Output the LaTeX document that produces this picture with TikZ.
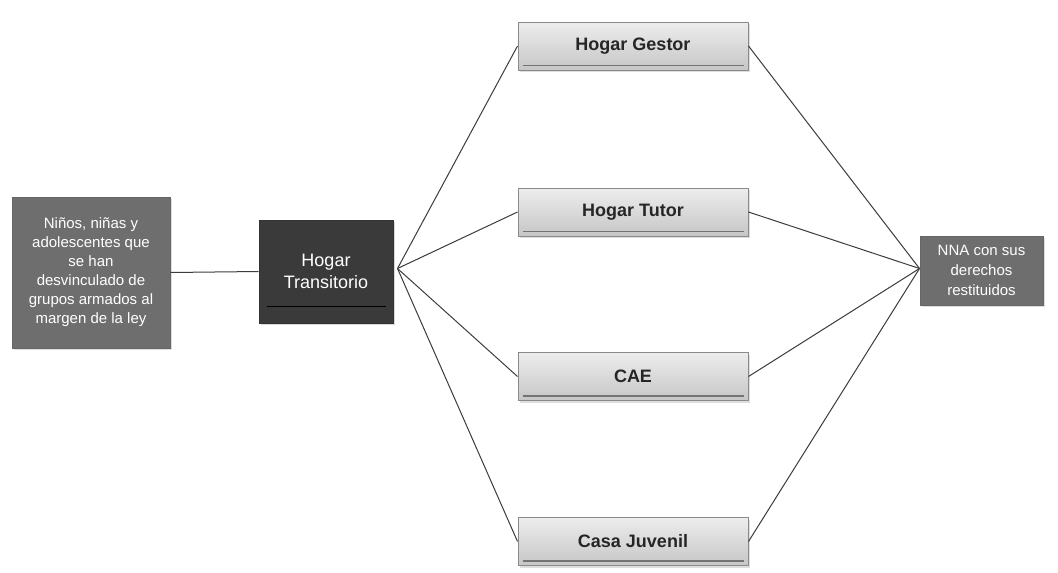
\documentclass[tikz,border=0pt]{standalone}
\usepackage{fontspec}
\setmainfont{Liberation Sans}
\usetikzlibrary{shadows}
\definecolor{midtop}{HTML}{EDEDED}
\definecolor{midbot}{HTML}{C6C6C6}
\definecolor{midborder}{HTML}{8A8A8A}
\definecolor{sidegray}{HTML}{6E6E6E}
\definecolor{darkbox}{HTML}{3A3A3A}
\definecolor{linegray}{HTML}{3C3C3C}
\tikzset{
  midbox/.style={draw=midborder, line width=1pt, top color=midtop, bottom color=midbot,
    minimum width=230pt, minimum height=48pt, inner sep=0pt,
    font=\fontsize{18}{20}\selectfont\bfseries, text=black!85,
    drop shadow={shadow xshift=2pt, shadow yshift=-2pt, fill=black!25}},
  graybox/.style={draw=black!60, line width=1pt, fill=sidegray, text=white, align=center,
    inner sep=0pt, drop shadow={shadow xshift=2pt, shadow yshift=-2pt, fill=black!25}},
  darkboxstyle/.style={draw=black!80, line width=1pt, fill=darkbox, text=white, align=center,
    inner sep=0pt, minimum width=134pt, minimum height=103pt,
    font=\fontsize{18}{22}\selectfont,
    drop shadow={shadow xshift=2pt, shadow yshift=-2pt, fill=black!30}},
  conn/.style={draw=linegray, line width=1pt}
}
\begin{document}
\begin{tikzpicture}[x=1pt,y=-1pt]
\useasboundingbox[fill=white] (0,0) rectangle (1058,573);
% left box
\node[graybox, minimum width=158pt, minimum height=151pt, font=\fontsize{15}{19}\selectfont]
  (ninos) at (91,272.5) {Niños, niñas y\\adolescentes que\\se han\\desvinculado de\\grupos armados al\\margen de la ley};
% hogar transitorio
\node[darkboxstyle] (trans) at (326,271.5) {Hogar\\Transitorio};
\draw[black, line width=1.5pt] ([xshift=8pt,yshift=17pt]trans.south west) -- ([xshift=-8pt,yshift=17pt]trans.south east);
% middle boxes
\node[midbox] (gestor) at (633,46) {Hogar Gestor};
\node[midbox] (tutor) at (633,212) {Hogar Tutor};
\node[midbox] (cae) at (633,376.5) {CAE};
\node[midbox] (casa) at (633,541.5) {Casa Juvenil};
\foreach \n in {gestor,tutor,cae,casa}{
  \draw[black!55, line width=1.2pt] ([xshift=5pt,yshift=5pt]\n.south west) -- ([xshift=-5pt,yshift=5pt]\n.south east);
}
% right box
\node[graybox, minimum width=123pt, minimum height=69pt, font=\fontsize{15}{20}\selectfont]
  (nna) at (981.5,270.5) {NNA con sus\\derechos\\restituidos};
% connectors
\draw[conn] (ninos.east) -- (trans.west);
\coordinate (fan) at ([xshift=4pt,yshift=3pt]trans.east);
\coordinate (fin) at ([yshift=2pt]nna.west);
\foreach \n in {gestor,tutor,cae,casa}{
  \draw[conn] (fan) -- (\n.west);
  \draw[conn] (\n.east) -- (fin);
}
\end{tikzpicture}
\end{document}
